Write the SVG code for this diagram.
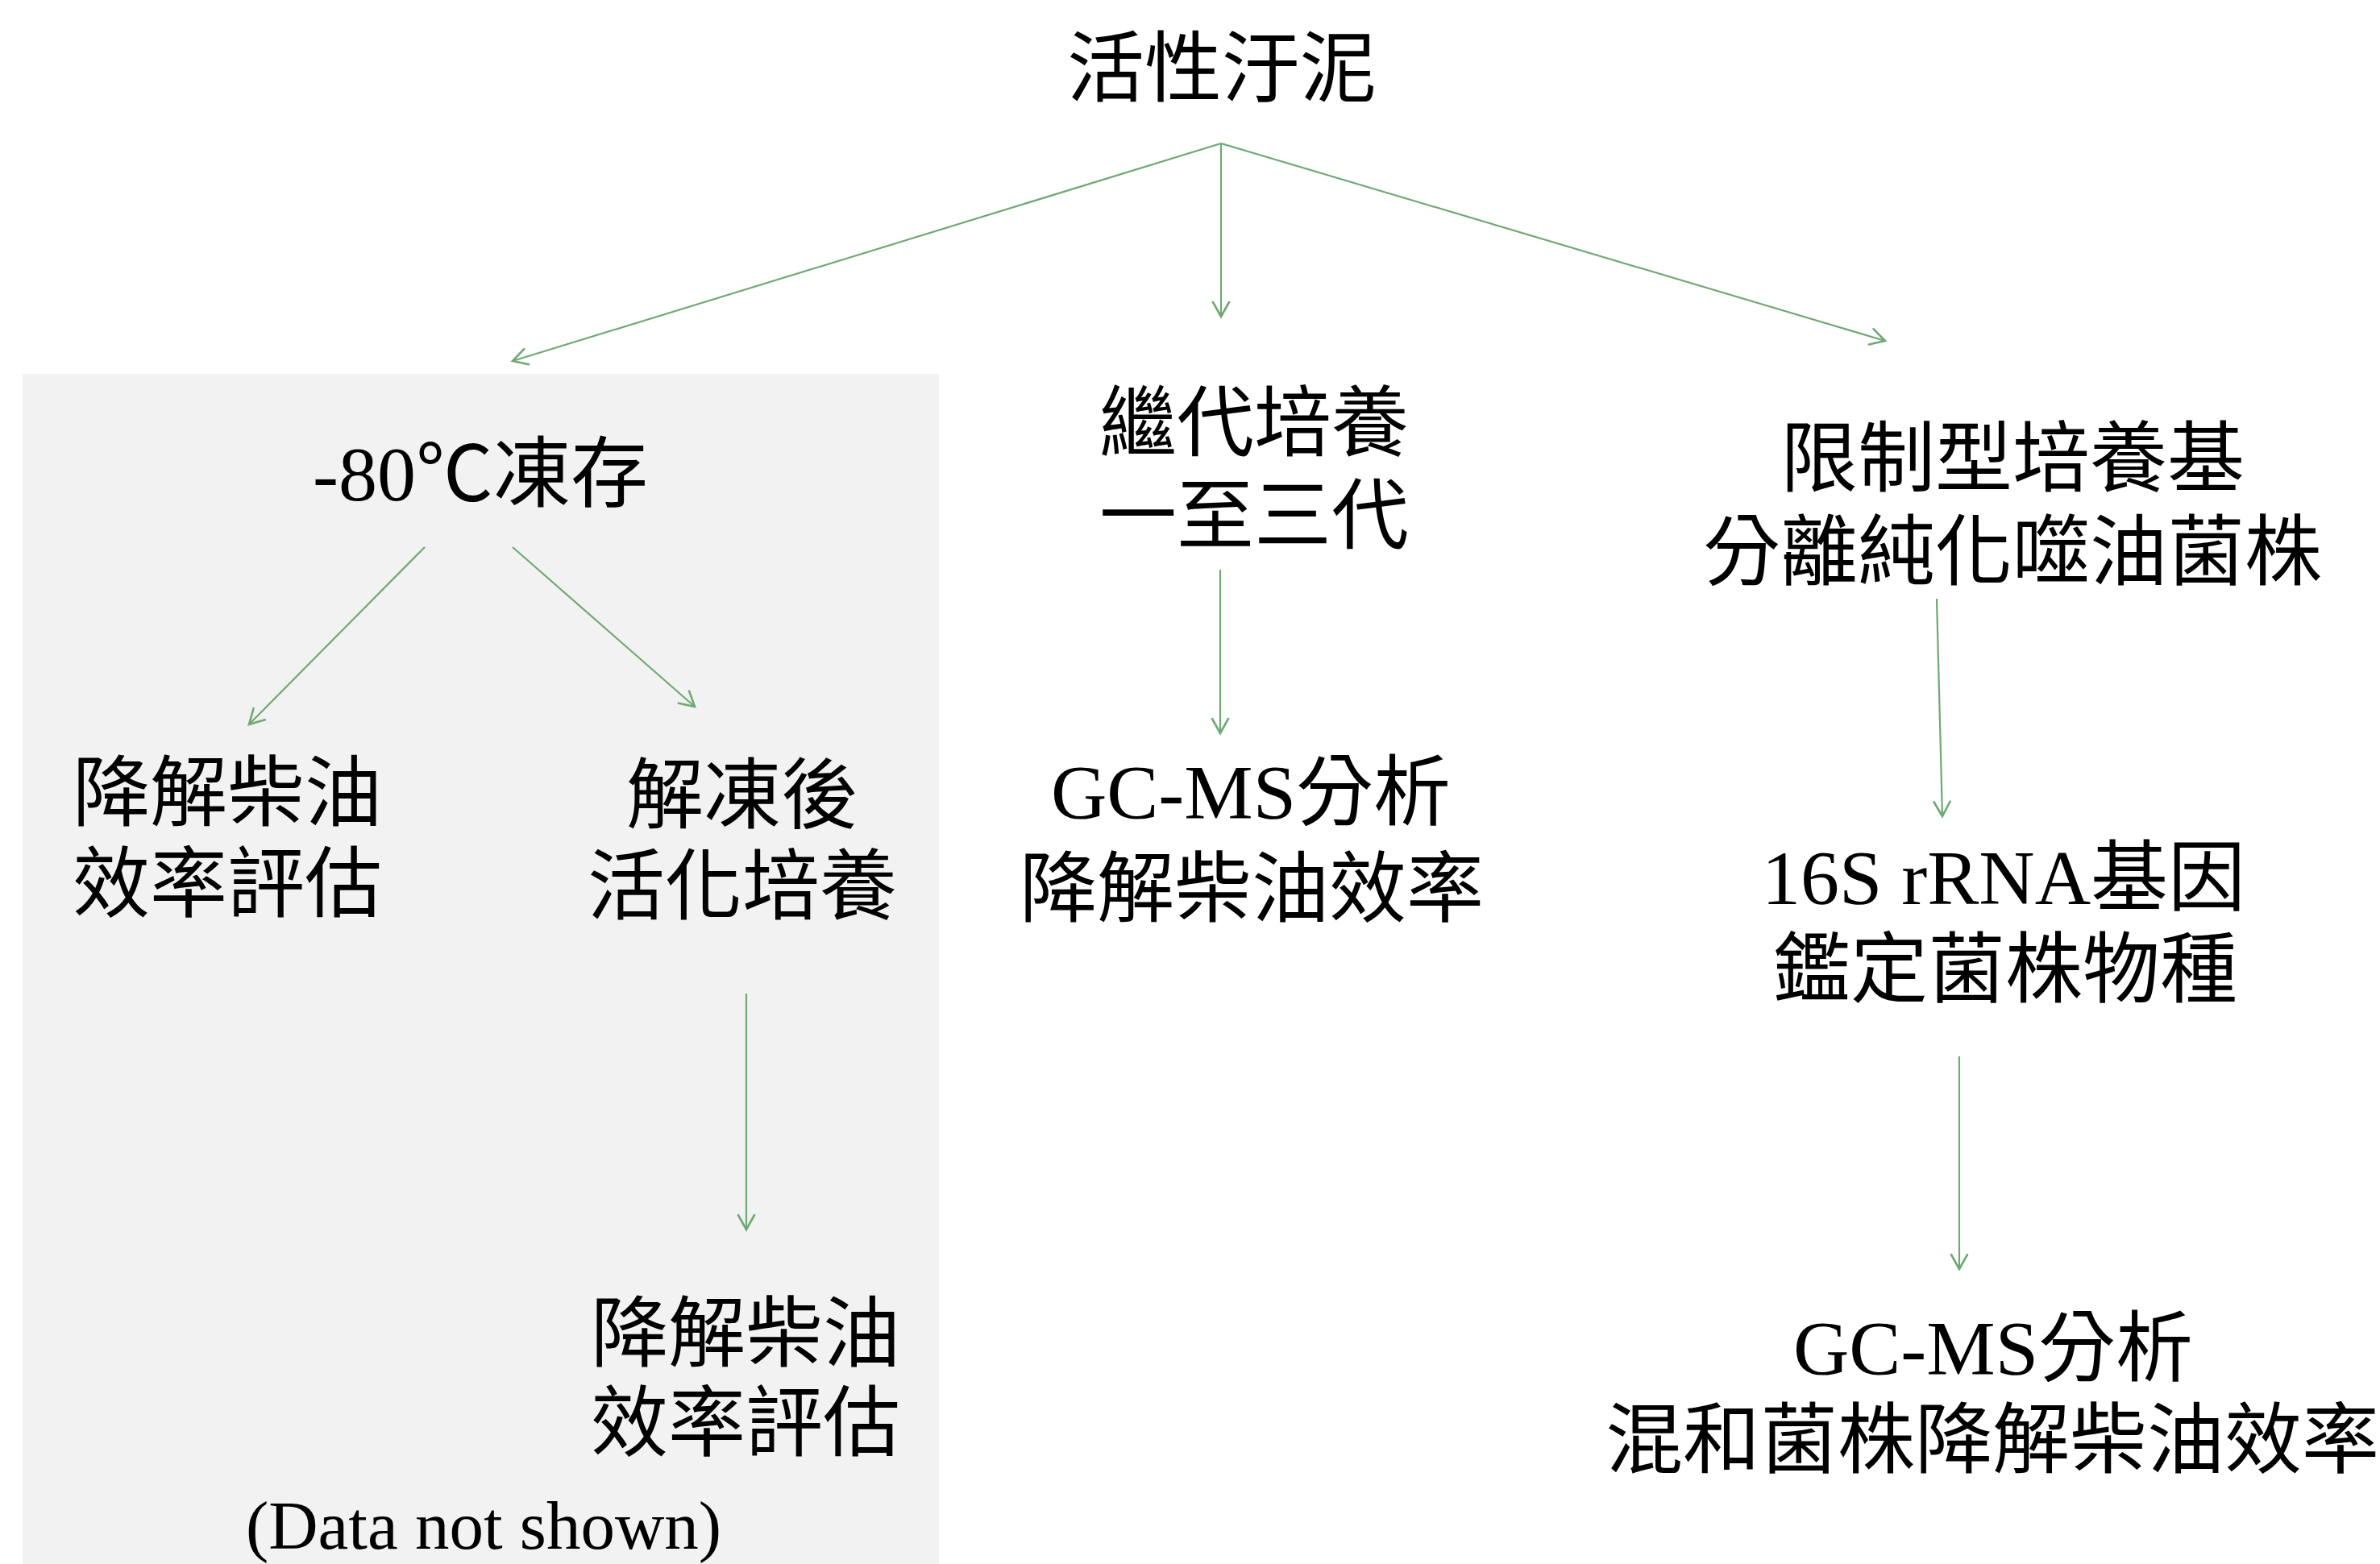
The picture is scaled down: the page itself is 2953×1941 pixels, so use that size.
<svg xmlns="http://www.w3.org/2000/svg" width="2953" height="1941" viewBox="0 0 2953 1941">
<style>
  .t { font-family: "Liberation Serif", "Noto Sans CJK TC", serif; font-size: 96px; fill: #000; text-anchor: middle; }
  .s { font-size: 85px; }
  .c { fill: none; stroke: #6fa874; stroke-width: 2.2; marker-end: url(#ah); }
</style>
<defs>
  <marker id="ah" markerUnits="userSpaceOnUse" markerWidth="30" markerHeight="30" viewBox="-24 -15 30 30" refX="0" refY="0" orient="auto">
    <path d="M-18,-10 L0,0 L-18,10" fill="none" stroke="#6fa874" stroke-width="2.6" stroke-linejoin="miter" stroke-linecap="round"/>
  </marker>
</defs>
<rect x="0" y="0" width="2953" height="1941" fill="#ffffff"/>
<rect id="frozen-panel" x="28" y="464" width="1137" height="1477" fill="#f2f2f2"/>

<g id="connectors">
  <line class="c" x1="1515" y1="178" x2="636" y2="448"/>
  <line class="c" x1="1515" y1="178" x2="1515" y2="393"/>
  <line class="c" x1="1515" y1="178" x2="2339" y2="423"/>
  <line class="c" x1="527" y1="679" x2="309" y2="899"/>
  <line class="c" x1="636" y1="679" x2="862" y2="877"/>
  <line class="c" x1="926" y1="1233" x2="926" y2="1526"/>
  <line class="c" x1="1514" y1="707" x2="1514" y2="910"/>
  <line class="c" x1="2403" y1="743" x2="2410" y2="1013"/>
  <line class="c" x1="2431" y1="1311" x2="2431" y2="1575"/>
</g>

<g id="node-sludge"><text class="t" x="1516" y="118">活性汙泥</text></g>
<g id="node-freeze"><text class="t" x="388" y="621" style="text-anchor:start">-80℃凍存</text></g>
<g id="node-subculture">
  <text class="t" x="1556" y="558">繼代培養</text>
  <text class="t" x="1556" y="673">一至三代</text>
</g>
<g id="node-isolate">
  <text class="t" x="2497" y="602">限制型培養基</text>
  <text class="t" x="2497" y="718">分離純化噬油菌株</text>
</g>
<g id="node-eval-left">
  <text class="t" x="282" y="1017">降解柴油</text>
  <text class="t" x="282" y="1130">效率評估</text>
</g>
<g id="node-thaw">
  <text class="t" x="921" y="1020">解凍後</text>
  <text class="t" x="921" y="1133">活化培養</text>
</g>
<g id="node-gcms-mid">
  <text class="t" x="1552" y="1016">GC-MS分析</text>
  <text class="t" x="1553" y="1136">降解柴油效率</text>
</g>
<g id="node-16s">
  <text class="t" x="2486" y="1122">16S rRNA基因</text>
  <text class="t" x="2488" y="1236">鑑定菌株物種</text>
</g>
<g id="node-gcms-right">
  <text class="t" x="2473" y="1706">GC-MS分析</text>
  <text class="t" x="2472" y="1820">混和菌株降解柴油效率</text>
</g>
<g id="node-eval-right">
  <text class="t" x="925" y="1688">降解柴油</text>
  <text class="t" x="925" y="1799">效率評估</text>
</g>
<g id="note"><text class="t s" x="600" y="1922">(Data not shown)</text></g>
</svg>
